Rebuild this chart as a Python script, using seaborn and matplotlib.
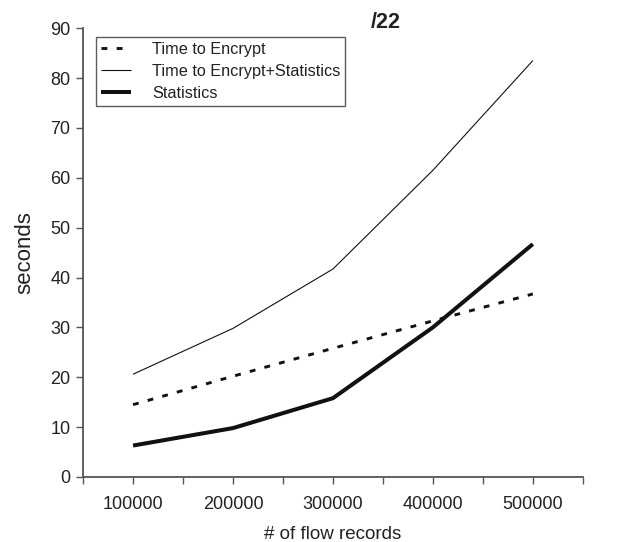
import matplotlib
matplotlib.use("Agg")
import matplotlib.pyplot as plt
import seaborn as sns
import pandas as pd
import numpy as np
from matplotlib.ticker import MultipleLocator, FixedLocator

flow_records = [100000, 200000, 300000, 400000, 500000]
time_to_encrypt = [14.5, 20.2, 25.8, 31.3, 36.7]
encrypt_plus_stats = [20.6, 29.8, 41.7, 61.5, 83.5]
statistics = [6.3, 9.8, 15.8, 30.0, 46.7]

series_names = ["Time to Encrypt", "Time to Encrypt+Statistics", "Statistics"]

sns.set_style("white")
plt.rcParams['font.family'] = ['Liberation Sans', 'DejaVu Sans']

df = pd.DataFrame({
    "records": flow_records * 3,
    "seconds": time_to_encrypt + encrypt_plus_stats + statistics,
    "series": sum([[n] * len(flow_records) for n in series_names], []),
})

fig = plt.figure(figsize=(6.2, 5.42), dpi=100)
ax = fig.add_axes([0.134, 0.120, 0.806, 0.828])

styles = {
    "Time to Encrypt": dict(lw=2.1, dashes=(2.0, 3.2)),
    "Time to Encrypt+Statistics": dict(lw=0.8, dashes=None),
    "Statistics": dict(lw=2.9, dashes=None),
}
for name in series_names:
    sub = df[df["series"] == name]
    st = styles[name]
    sns.lineplot(data=sub, x="records", y="seconds", ax=ax, label=name,
                 color="black", linewidth=st["lw"])
    ln = ax.get_lines()[-1]
    if st["dashes"]:
        ln.set_dashes(st["dashes"])
    ln.set_solid_capstyle("butt")
    ln.set_color("#111111")

ax.set_xlim(50000, 550000)
ax.set_ylim(0, 90)
ax.yaxis.set_major_locator(MultipleLocator(10))
ax.xaxis.set_major_locator(FixedLocator(flow_records))
ax.xaxis.set_minor_locator(FixedLocator([50000, 150000, 250000, 350000, 450000, 550000]))
ax.set_xticklabels([str(v) for v in flow_records])

for s in ["top", "right"]:
    ax.spines[s].set_visible(False)
for s in ["left", "bottom"]:
    ax.spines[s].set_color("#555555")
    ax.spines[s].set_linewidth(1.3)
ax.tick_params(axis="both", which="both", direction="out", length=5, width=1, color="#555555",
               labelsize=13, labelcolor="#222222", bottom=True, left=True)
ax.tick_params(axis="x", which="major", pad=9)
ax.tick_params(axis="y", which="major", pad=4)

ax.set_xlabel("# of flow records", fontsize=13.5, color="#222222", labelpad=9)
ax.set_ylabel("seconds", fontsize=16, color="#222222", labelpad=11)

ax.text(0.606, 1.012, "/22", transform=ax.transAxes, fontsize=15.5, fontweight="bold",
        ha="center", va="center", color="#222222")

leg = ax.legend(loc="upper left", bbox_to_anchor=(0.026, 0.98), frameon=True, fancybox=False,
                fontsize=11.7, handlelength=1.85, handletextpad=1.3, borderpad=0.3,
                labelspacing=0.42, borderaxespad=0.0)
leg.get_frame().set_edgecolor("#333333")
leg.get_frame().set_linewidth(1.0)
for t in leg.get_texts():
    t.set_color("#222222")

fig.savefig("out.png", dpi=100, facecolor="white")
